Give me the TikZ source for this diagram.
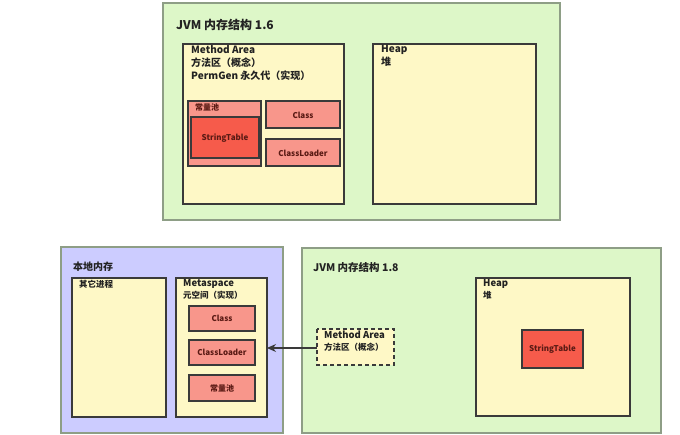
\documentclass[tikz,border=0pt]{standalone}
\usepackage{fontspec}
\setmainfont{Noto Sans CJK SC}
\usetikzlibrary{arrows.meta}
\definecolor{gbg}{HTML}{DDF7C8}
\definecolor{gbd}{HTML}{8E9E86}
\definecolor{ybg}{HTML}{FEF8C6}
\definecolor{pbg}{HTML}{CCCCFF}
\definecolor{rlt}{HTML}{F8968B}
\definecolor{rdk}{HTML}{F65B4B}
\definecolor{bd}{HTML}{3A3A3A}
\definecolor{tx}{HTML}{222222}
\definecolor{rtx}{HTML}{5A1A14}
\tikzset{
  region/.style={draw=gbd, fill=gbg, line width=1.2pt},
  pregion/.style={draw=gbd, fill=pbg, line width=1.2pt},
  ybox/.style={draw=bd, fill=ybg, line width=1.3pt},
  rbox/.style={draw=bd, fill=rlt, line width=1.3pt},
  sbox/.style={draw=bd, fill=rdk, line width=1.3pt},
  ttl/.style={anchor=north west, inner sep=0pt, font=\fontsize{12}{14}\selectfont\bfseries, text=tx},
  lbl/.style={anchor=north west, inner sep=0pt, font=\fontsize{10}{13}\selectfont\bfseries, text=tx, align=left},
  sml/.style={font=\fontsize{8}{10}\selectfont\bfseries, text=rtx},
}
\begin{document}
\begin{tikzpicture}[x=1pt,y=-1pt]
\useasboundingbox (0,0) rectangle (680,435);
\fill[white] (0,0) rectangle (680,435);
% ---- JVM 1.6 ----
\draw[region] (163,3) rectangle (560,220);
\node[ttl] (t16) at (176,19) {JVM 内存结构 1.6};
\draw[ybox] (183,44) rectangle (344,204);
\node[lbl] (ma16) at (191,45) {Method Area\\方法区（概念）\\PermGen 永久代（实现）};
\draw[ybox] (373,44) rectangle (536,204);
\node[lbl] (heap16) at (381,45) {Heap\\堆};
\draw[rbox] (188,101) rectangle (261,166);
\node[anchor=north west, inner sep=0pt, sml] (cp16) at (195,103) {常量池};
\draw[sbox] (191,117) rectangle (259,158);
\node[sml] (st16) at (225,138) {StringTable};
\draw[rbox] (266,101) rectangle (340,128);
\node[sml] (cl16) at (303,115) {Class};
\draw[rbox] (266,139) rectangle (340,166);
\node[sml] (cld16) at (303,153) {ClassLoader};
% ---- native memory ----
\draw[pregion] (61,247) rectangle (283,433);
\node[ttl, font=\fontsize{10}{12}\selectfont\bfseries] (nm) at (73,262) {本地内存};
\draw[ybox] (72,278) rectangle (166,417);
\node[anchor=north west, inner sep=0pt, font=\fontsize{8.5}{10}\selectfont\bfseries, text=tx] (other) at (79,280) {其它进程};
\draw[ybox] (176,278) rectangle (267,417);
\node[lbl, font=\fontsize{9.5}{12}\selectfont\bfseries] (meta) at (183,279) {Metaspace\\{\fontsize{8.5}{11}\selectfont 元空间（实现）}};
\draw[rbox] (189,306) rectangle (255,331);
\node[sml] (cl18) at (222,318.5) {Class};
\draw[rbox] (189,340) rectangle (255,365);
\node[sml] (cld18) at (222,352.5) {ClassLoader};
\draw[rbox] (189,375) rectangle (255,401);
\node[sml] (cp18) at (222,388) {常量池};
\coordinate (metaE) at (267,348);
% ---- JVM 1.8 ----
\draw[region] (302,248) rectangle (661,433);
\node[ttl, font=\fontsize{10.5}{12}\selectfont\bfseries] (t18) at (313,262) {JVM 内存结构 1.8};
\draw[ybox, dash pattern=on 4pt off 3pt] (317,329) rectangle (394,365);
\node[lbl, font=\fontsize{9.5}{12}\selectfont\bfseries] (ma18) at (324,331) {Method Area\\{\fontsize{8.5}{11}\selectfont 方法区（概念）}};
\coordinate (maW) at (317,348);
\draw[ybox] (476,278) rectangle (630,416);
\node[lbl, font=\fontsize{9.5}{12}\selectfont\bfseries] (heap18) at (483,279) {Heap\\{\fontsize{8.5}{11}\selectfont 堆}};
\draw[sbox] (522,330) rectangle (583,368);
\node[sml] (st18) at (552.5,349) {StringTable};
% ---- arrow ----
\draw[bd, line width=1.2pt, -{Stealth[length=9pt,width=8pt]}] (maW) -- (metaE);
\end{tikzpicture}
\end{document}
